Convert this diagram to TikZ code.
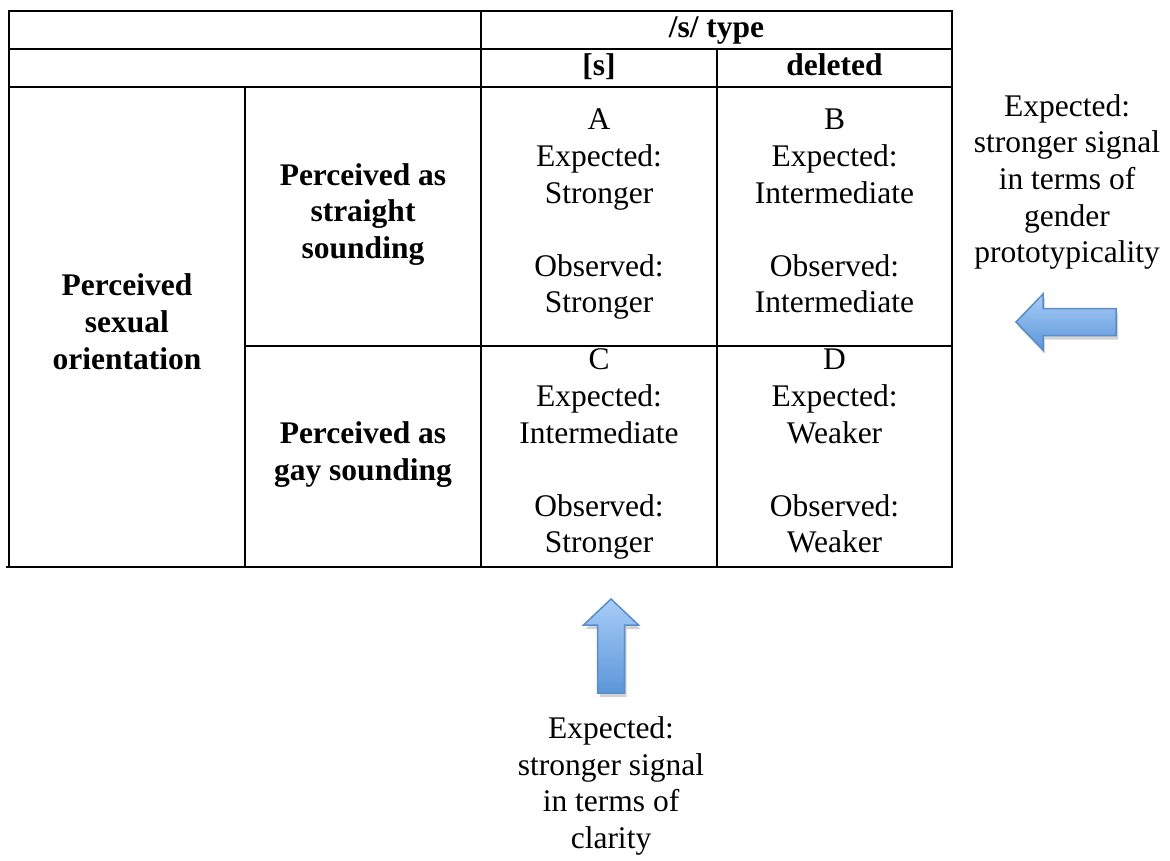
\documentclass[tikz,border=0pt]{standalone}
\usepackage{fontspec}
\setmainfont{Liberation Serif}
\usetikzlibrary{shadows}
\definecolor{arrowtop}{HTML}{A9CDF7}
\definecolor{arrowbot}{HTML}{5B96DA}
\definecolor{arrowline}{HTML}{5A8DC9}
\newcommand{\cellfont}{\fontsize{31.5}{36.6}\selectfont}
\tikzset{
  rule/.style={line width=2.5pt},
  celltext/.style={align=center, inner sep=0pt, font=\cellfont,
    execute at begin node=\strut, execute at end node=\strut},
  headtext/.style={celltext, font=\cellfont\bfseries},
  blockarrow/.style={draw=arrowline, line width=1.5pt, top color=arrowtop, bottom color=arrowbot,
    drop shadow={shadow xshift=2pt, shadow yshift=-4pt, opacity=0.35}}
}
\begin{document}
\begin{tikzpicture}[x=1pt,y=-1pt]
\useasboundingbox (0,0) rectangle (1170,860);
\draw[rule] (9,11) rectangle (952,567);
\draw[rule] (6,567) -- (952,567);
\draw[rule] (9,49) -- (952,49);
\draw[rule] (9,87) -- (952,87);
\draw[rule] (245,346) -- (952,346);
\draw[rule] (481,11) -- (481,567);
\draw[rule] (717,49) -- (717,567);
\draw[rule] (245,87) -- (245,567);
\node[headtext] (stype) at (716.5,30) {/s/ type};
\node[headtext] (shead) at (599,68) {[s]};
\node[headtext] (delhead) at (834.5,68) {deleted};
\node[headtext] (orient) at (127,327) {Perceived\\sexual\\orientation};
\node[headtext] (straight) at (363,216.5) {Perceived as\\straight\\sounding};
\node[headtext] (gay) at (363,456.5) {Perceived as\\gay sounding};
\node[celltext] (cellA) at (599,216.5) {A\\Expected:\\Stronger\\[36.6pt]Observed:\\Stronger};
\node[celltext] (cellB) at (834.5,216.5) {B\\Expected:\\Intermediate\\[36.6pt]Observed:\\Intermediate};
\node[celltext] (cellC) at (599,456.5) {C\\Expected:\\Intermediate\\[36.6pt]Observed:\\Stronger};
\node[celltext] (cellD) at (834.5,456.5) {D\\Expected:\\Weaker\\[36.6pt]Observed:\\Weaker};
\path[blockarrow] (1016,322) -- (1043,294) -- (1043,308.5) -- (1116,308.5) -- (1116,335.5) -- (1043,335.5) -- (1043,350) -- cycle;
\path[blockarrow] (611,599) -- (638.5,625) -- (624.5,625) -- (624.5,693) -- (597.5,693) -- (597.5,625) -- (583.5,625) -- cycle;
\node[celltext] (rightnote) at (1067,184) {Expected:\\stronger signal\\in terms of\\gender\\prototypicality};
\node[celltext] (bottomnote) at (611,788) {Expected:\\stronger signal\\in terms of\\clarity};
\end{tikzpicture}
\end{document}
